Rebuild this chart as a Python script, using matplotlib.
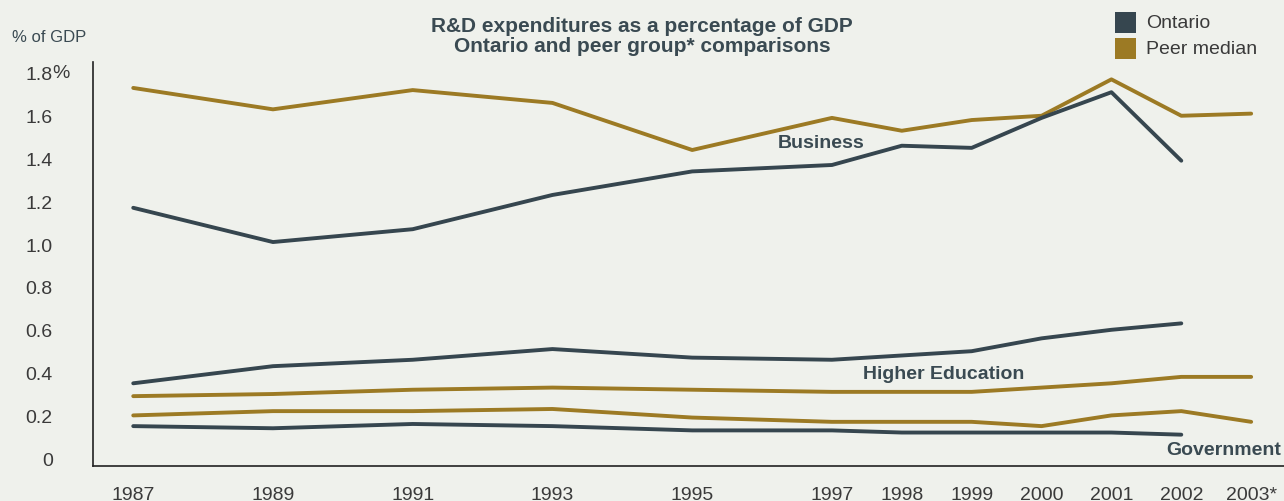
import matplotlib
matplotlib.use('Agg')
import matplotlib.pyplot as plt
from matplotlib.patches import Rectangle

# R&D expenditures as % of GDP, Ontario vs peer-group median, by performing sector
years = [1987, 1989, 1991, 1993, 1995, 1997, 1998, 1999, 2000, 2001, 2002, 2003]
year_labels = ['1987', '1989', '1991', '1993', '1995', '1997', '1998', '1999',
               '2000', '2001', '2002', '2003*']

# Ontario series stop at 2002
ont_business = [1.17, 1.01, 1.07, 1.23, 1.34, 1.37, 1.46, 1.45, 1.59, 1.71, 1.39]
ont_higher_ed = [0.35, 0.43, 0.46, 0.51, 0.47, 0.46, 0.48, 0.50, 0.56, 0.60, 0.63]
ont_government = [0.15, 0.14, 0.16, 0.15, 0.13, 0.13, 0.12, 0.12, 0.12, 0.12, 0.11]

# Peer median runs to 2003*
peer_business = [1.73, 1.63, 1.72, 1.66, 1.44, 1.59, 1.53, 1.58, 1.60, 1.77, 1.60, 1.61]
peer_higher_ed = [0.29, 0.30, 0.32, 0.33, 0.32, 0.31, 0.31, 0.31, 0.33, 0.35, 0.38, 0.38]
peer_government = [0.20, 0.22, 0.22, 0.23, 0.19, 0.17, 0.17, 0.17, 0.15, 0.20, 0.22, 0.17]

yticks = [0, 0.2, 0.4, 0.6, 0.8, 1.0, 1.2, 1.4, 1.6, 1.8]
ytick_labels = ['0', '0.2', '0.4', '0.6', '0.8', '1.0', '1.2', '1.4', '1.6', '1.8']

ONT = '#36464f'
PEER = '#9c7a24'
BG = '#eff1ec'
TXT = '#3a4a52'

plt.rcParams['font.family'] = ['Liberation Sans', 'DejaVu Sans']

fig = plt.figure(figsize=(12.84, 5.02), dpi=100, facecolor=BG)
ax = fig.add_axes([0.0722, 0.0703, 0.9278, 0.8037], facecolor=BG)

line_kw = dict(lw=2.8, solid_capstyle='round', solid_joinstyle='round', zorder=3)
n_ont = len(ont_business)
for ys in (peer_business, peer_higher_ed, peer_government):
    ax.plot(years, ys, color=PEER, **line_kw)
for ys in (ont_business, ont_higher_ed, ont_government):
    ax.plot(years[:n_ont], ys, color=ONT, **line_kw)

ax.set_xlim(1986.42, 2003.47)
ax.set_ylim(-0.035, 1.85)
ax.set_xticks(years)
ax.set_xticklabels(year_labels)
ax.set_yticks(yticks)
ax.set_yticklabels(ytick_labels)
ax.tick_params(axis='both', length=0, labelsize=14, labelcolor='#3a3a3a')
ax.tick_params(axis='y', pad=28.8)
ax.tick_params(axis='x', pad=14.5)
for side in ('top', 'right'):
    ax.spines[side].set_visible(False)
for side in ('left', 'bottom'):
    ax.spines[side].set_color('#222222')
    ax.spines[side].set_linewidth(1.2)

# the "%" hangs off the top tick label, numbers stay right-aligned
ax.annotate('%', xy=(0, 1.8), xycoords=('axes fraction', 'data'),
            xytext=(-28.8, 0), textcoords='offset points',
            ha='left', va='center', fontsize=14, color='#3a3a3a')

# sector labels
lab_kw = dict(fontsize=14, fontweight='bold', color=TXT, ha='center', va='center')
ax.text(1996.85, 1.477, 'Business', **lab_kw)
ax.text(1998.6, 0.394, 'Higher Education', **lab_kw)
ax.text(2002.61, 0.043, 'Government', **lab_kw)

fig.text(0.5, 0.927, 'R&D expenditures as a percentage of GDP\nOntario and peer group* comparisons',
         ha='center', va='center', fontsize=15, fontweight='bold', color=TXT, linespacing=1.05)
fig.text(11.7 / 1284, 1 - 37.3 / 502, '% of GDP', ha='left', va='center',
         fontsize=12, color=TXT)

# hand-placed legend, top right
for i, (name, col) in enumerate([('Ontario', ONT), ('Peer median', PEER)]):
    top = 13.3 + i * 26.0
    fig.patches.append(Rectangle((1115 / 1284, 1 - (top + 21) / 502), 21 / 1284, 21 / 502,
                                 transform=fig.transFigure, facecolor=col, edgecolor='none'))
    fig.text(1146 / 1284, 1 - (top + 10.5) / 502, name, ha='left', va='center',
             fontsize=14, color='#3a3a3a')

fig.savefig('out.png', dpi=100, facecolor=BG)
